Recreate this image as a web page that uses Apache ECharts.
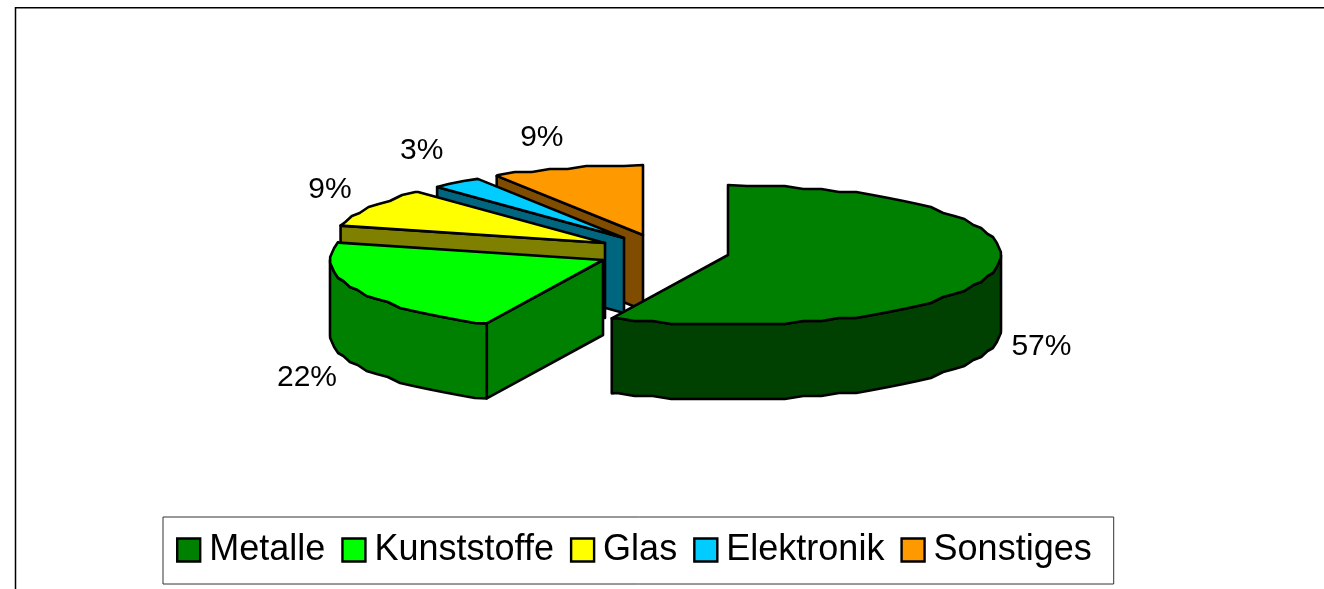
<!DOCTYPE html>
<html>
<head>
<meta charset="utf-8">
<style>html,body{margin:0;padding:0;background:#fff;overflow:hidden}#c{width:1324px;height:589px}</style>
<script src="https://cdn.jsdelivr.net/npm/echarts@6/dist/echarts.min.js"></script>
</head>
<body>
<div id="c"></div>
<script>
// Data
const categories = ['Metalle', 'Kunststoffe', 'Glas', 'Elektronik', 'Sonstiges'];
const shares = [57, 22, 9, 3, 9];
// Styles
const topColors = ['#008000', '#00ff00', '#ffff00', '#00ccff', '#ff9900'];
const sideColors = ['#004000', '#008000', '#808000', '#006680', '#804c00'];
// Layout of the 3D pie
const pivot = [650, 247];
const explode = [[78, 8], [-47, 13], [-45, -4], [-26, -9], [-7, -12]];
const labelShift = [[47, 76], [-49, 88], [-40, -18], [-35, -32], [-25, -30]];
const RX = 273, RY = 70, DEPTH = 75, STEP = 4, GRID = 3;

const total = shares.reduce((a, b) => a + b, 0);
const rad = d => d * Math.PI / 180;
const snap = v => Math.round(v / GRID) * GRID;

function sliceAngles(i) {
  const before = shares.slice(0, i).reduce((a, b) => a + b, 0);
  return [before / total * 360, (before + shares[i]) / total * 360];
}
function rimPoint(c, deg, exact) {
  const dx = RX * Math.sin(rad(deg)), dy = -RY * Math.cos(rad(deg));
  return exact ? [c[0] + dx, c[1] + dy] : [c[0] + dx, c[1] + snap(dy)];
}
function rim(c, a, b) {
  const pts = [rimPoint(c, a, true)];
  const first = Math.ceil((a + 0.01) / STEP) * STEP;
  for (let d = first; d < b - 0.01; d += STEP) pts.push(rimPoint(c, d, false));
  pts.push(rimPoint(c, b, true));
  return pts;
}
const down = p => [p[0], p[1] + DEPTH];
const outline = { stroke: '#000', lineWidth: 2.6, lineJoin: 'round' };

function poly(points, fill) {
  return { type: 'polygon', shape: { points }, style: Object.assign({ fill }, outline) };
}

function makeRender(i) {
  return function (params, api) {
    const value = api.value(0);
    const [a, b] = sliceAngles(i);
    const c = [pivot[0] + explode[i][0], pivot[1] + explode[i][1]];
    const children = [];
    // radial faces turned towards the viewer
    if (Math.sin(rad(a)) < -1e-6) {
      const r = rimPoint(c, a, true);
      children.push(poly([c, r, down(r), down(c)], sideColors[i]));
    }
    if (Math.sin(rad(b)) > 1e-6) {
      const r = rimPoint(c, b, true);
      children.push(poly([c, r, down(r), down(c)], sideColors[i]));
    }
    // curved outer wall
    const wa = Math.max(a, 90), wb = Math.min(b, 270);
    if (wb > wa) {
      const top = rim(c, wa, wb);
      children.push(poly(top.concat(top.slice().reverse().map(down)), sideColors[i]));
    }
    // top surface
    children.push(poly([c].concat(rim(c, a, b)), topColors[i]));
    // percent label
    const mid = rimPoint(c, (a + b) / 2, true);
    children.push({
      type: 'text',
      style: {
        text: Math.round(value / total * 100) + '%',
        x: mid[0] + labelShift[i][0],
        y: mid[1] + labelShift[i][1],
        align: 'center',
        verticalAlign: 'middle',
        fill: '#000',
        font: '30px "Liberation Sans", Arial, sans-serif'
      }
    });
    return { type: 'group', children };
  };
}

const chart = echarts.init(document.getElementById('c'), null, { renderer: 'canvas' });
chart.setOption({
  animation: false,
  backgroundColor: '#fff',
  legend: {
    left: 163,
    top: 517,
    orient: 'horizontal',
    itemWidth: 23,
    itemHeight: 23,
    itemGap: 16,
    padding: [15, 22, 16, 13],
    borderColor: '#333',
    borderWidth: 1,
    selectedMode: false,
    icon: 'rect',
    textStyle: { fontFamily: '"Liberation Sans", Arial, sans-serif', fontSize: 36, color: '#000', padding: [0, 0, 16, 4] },
    data: categories.map((name, i) => ({
      name,
      icon: 'rect',
      itemStyle: { color: topColors[i], borderColor: '#000', borderWidth: 2.4 }
    }))
  },
  graphic: [
    { type: 'polyline', silent: true, z: -1,
      shape: { points: [[15.5, 589], [15.5, 7.75], [1324, 7.75]] },
      style: { stroke: '#000', lineWidth: 1.5, fill: null } }
  ],
  series: categories.map((name, i) => ({
    type: 'custom',
    name,
    coordinateSystem: 'none',
    z: 10 + (categories.length - i),
    silent: true,
    itemStyle: { color: topColors[i] },
    renderItem: makeRender(i),
    data: [[shares[i]]]
  }))
});
</script>
</body>
</html>
